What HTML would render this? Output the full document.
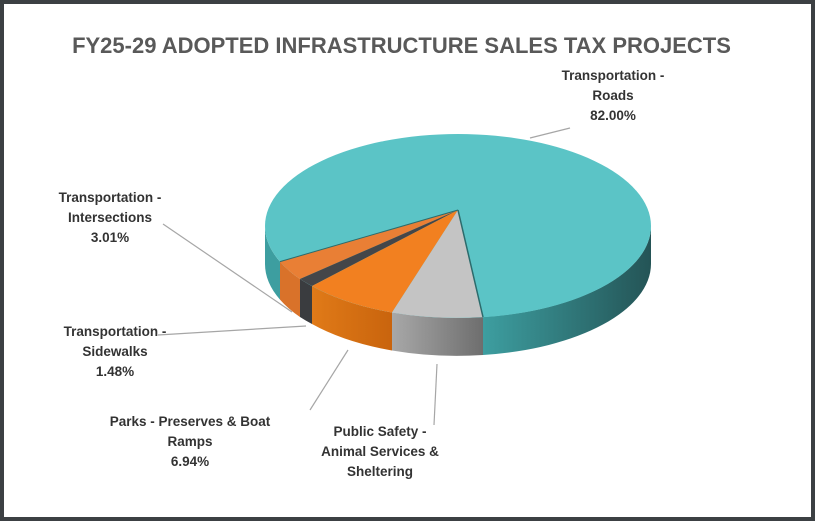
<!DOCTYPE html>
<html><head><style>
body{margin:0;width:815px;height:521px;overflow:hidden;background:#fff}
.f{position:absolute;left:0;top:0;width:807px;height:513px;border:4px solid #3c4043;background:#fff}
.t{position:absolute;font-family:"Liberation Sans",sans-serif;font-weight:bold;color:#333;font-size:13.5px;text-align:center;line-height:20px}
</style></head><body>
<div class="f"></div>
<div class="t" style="left:-6px;width:815px;top:32px;font-size:22px;color:#595959;line-height:28px">FY25-29 ADOPTED INFRASTRUCTURE SALES TAX PROJECTS</div>
<svg width="815" height="521" style="position:absolute;left:0;top:0">
<defs>
<linearGradient id="ts" x1="0" x2="1"><stop offset="0" stop-color="#3d9ea0"/><stop offset="1" stop-color="#245456"/></linearGradient>
<linearGradient id="gs" x1="0" x2="1"><stop offset="0" stop-color="#a8a8a8"/><stop offset="1" stop-color="#6e6e6e"/></linearGradient>
<linearGradient id="os" x1="0" x2="1"><stop offset="0" stop-color="#e07a18"/><stop offset="1" stop-color="#c9640d"/></linearGradient>
</defs>
<g stroke="#a6a6a6" stroke-width="1.2" fill="none">
<line x1="530" y1="138" x2="570" y2="128"/>
<line x1="163" y1="224" x2="292" y2="312"/>
<line x1="158" y1="335" x2="306" y2="326"/>
<line x1="310" y1="410" x2="348" y2="350"/>
<line x1="434" y1="425" x2="437" y2="364"/>
</g>
<path d="M265,226 A193 92 0 0 0 280,261.6 L280,299.6 A193 92 0 0 1 265,264 Z" fill="#3d9ea0"/>
<path d="M280,261.6 A193 92 0 0 0 300,279 L300,317 A193 92 0 0 1 280,299.6 Z" fill="#d9722a"/>
<path d="M300,279 A193 92 0 0 0 312,286 L312,324 A193 92 0 0 1 300,317 Z" fill="#3a3c3f"/>
<path d="M312,286 A193 92 0 0 0 392,312.5 L392,350.5 A193 92 0 0 1 312,324 Z" fill="url(#os)"/>
<path d="M392,312.5 A193 92 0 0 0 483,317 L483,355 A193 92 0 0 1 392,350.5 Z" fill="url(#gs)"/>
<path d="M483,317 A193 92 0 0 0 651,226 L651,264 A193 92 0 0 1 483,355 Z" fill="url(#ts)"/>
<ellipse cx="458" cy="226" rx="193" ry="92" fill="#5bc4c6"/>
<path d="M458,210 L280,261.6 A193 92 0 0 0 300,279 Z" fill="#e97f35"/>
<path d="M458,210 L300,279 A193 92 0 0 0 312,286 Z" fill="#444649"/>
<path d="M458,210 L312,286 A193 92 0 0 0 392,312.5 Z" fill="#f28020"/>
<path d="M458,210 L392,312.5 A193 92 0 0 0 483,317 Z" fill="#c4c4c4"/>
<line x1="458" y1="210" x2="483" y2="317" stroke="#2c6b6c" stroke-width="1.5"/>
<line x1="458" y1="210" x2="280" y2="261.6" stroke="#2c6b6c" stroke-width="1"/>
</svg>
<div class="t" style="left:538px;width:150px;top:66px">Transportation -<br>Roads<br>82.00%</div>
<div class="t" style="left:30px;width:160px;top:188px">Transportation -<br>Intersections<br>3.01%</div>
<div class="t" style="left:35px;width:160px;top:322px">Transportation -<br>Sidewalks<br>1.48%</div>
<div class="t" style="left:90px;width:200px;top:412px">Parks - Preserves &amp; Boat<br>Ramps<br>6.94%</div>
<div class="t" style="left:300px;width:160px;top:422px">Public Safety -<br>Animal Services &amp;<br>Sheltering</div>
</body></html>
